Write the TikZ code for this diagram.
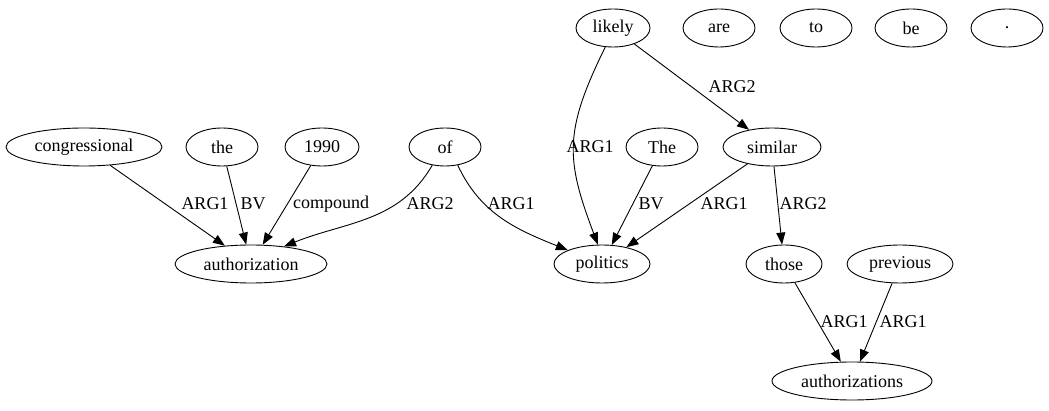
\documentclass[tikz,border=0pt]{standalone}
\usepackage{fontspec}
\setmainfont{Liberation Serif}
\usetikzlibrary{shapes.geometric,arrows.meta}
\begin{document}
\begin{tikzpicture}[x=1pt,y=-1pt,
  word/.style={draw,ellipse,line width=0.9pt,minimum height=38pt,inner sep=0pt,
    font=\fontsize{18}{20}\selectfont},
  lbl/.style={font=\fontsize{18}{20}\selectfont,inner sep=0pt},
  dep/.style={draw,line width=0.9pt,-{Triangle[length=12pt,width=9pt]}}]
\useasboundingbox (0,0) rectangle (1049,411);

% top row
\node[word,minimum width=74pt] (likely) at (613,28) {likely};
\node[word,minimum width=72pt] (are) at (719,28) {are};
\node[word,minimum width=72pt] (to) at (816,28) {to};
\node[word,minimum width=72pt] (be) at (911,28) {be};
\node[word,minimum width=72pt] (dot) at (1007,28) {.};

% middle row
\node[word,minimum width=156pt] (congressional) at (84,147) {congressional};
\node[word,minimum width=72pt] (the) at (222,147) {the};
\node[word,minimum width=74pt] (y1990) at (322,147) {1990};
\node[word,minimum width=72pt] (of) at (445,147) {of};
\node[word,minimum width=72pt] (The) at (662,147) {The};
\node[word,minimum width=98pt] (similar) at (772,147) {similar};

% lower rows
\node[word,minimum width=152pt] (authorization) at (251,264) {authorization};
\node[word,minimum width=96pt] (politics) at (602,264) {politics};
\node[word,minimum width=76pt] (those) at (784,264) {those};
\node[word,minimum width=106pt] (previous) at (900,264) {previous};
\node[word,minimum width=160pt] (authorizations) at (852,381) {authorizations};

% dependencies
\draw[dep] (congressional) -- (authorization);
\draw[dep] (the) -- (authorization);
\draw[dep] (y1990) -- (authorization);
\draw[dep] (of.-125) to[out=-120,in=22] (authorization.28);
\draw[dep] (of.-55) to[out=-65,in=158] (politics.158);
\draw[dep] (likely.-112) .. controls +(-42,85) and +(-32,-85) .. (politics.102);
\draw[dep] (likely) -- (similar);
\draw[dep] (The) -- (politics);
\draw[dep] (similar) -- (politics);
\draw[dep] (similar) -- (those);
\draw[dep] (those) -- (authorizations);
\draw[dep] (previous) -- (authorizations);

% edge labels
\node[lbl] (l1) at (205,204) {ARG1};
\node[lbl] (l2) at (253,204) {BV};
\node[lbl] (l3) at (331,204) {compound};
\node[lbl] (l4) at (430,204) {ARG2};
\node[lbl] (l5) at (511,204) {ARG1};
\node[lbl] (l6) at (590,147) {ARG1};
\node[lbl] (l7) at (732,87) {ARG2};
\node[lbl] (l8) at (651,204) {BV};
\node[lbl] (l9) at (724,204) {ARG1};
\node[lbl] (l10) at (803,204) {ARG2};
\node[lbl] (l11) at (844,322) {ARG1};
\node[lbl] (l12) at (903,322) {ARG1};
\end{tikzpicture}
\end{document}
